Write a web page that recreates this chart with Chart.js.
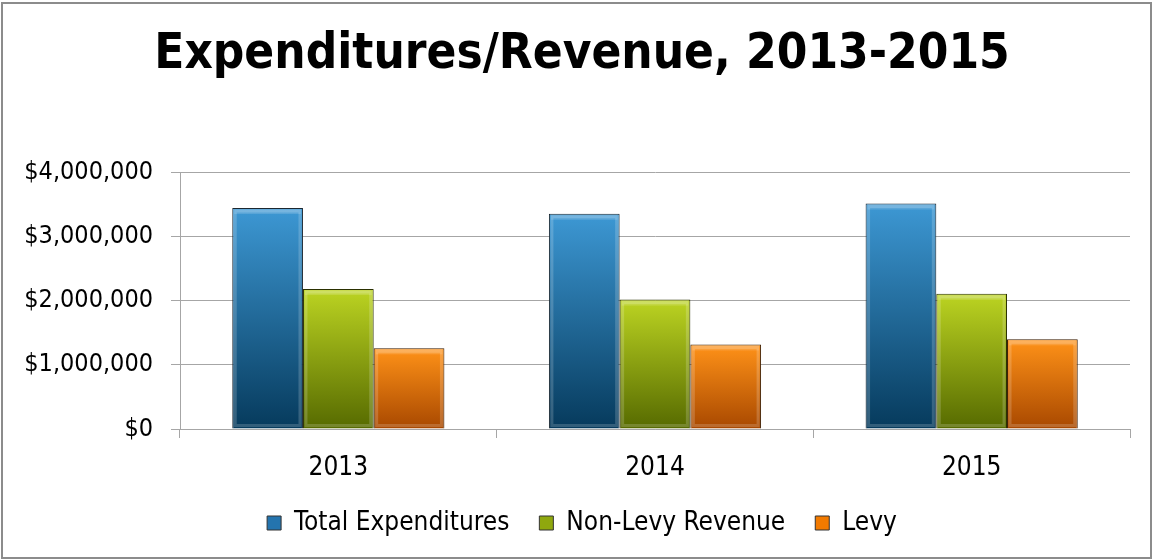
<!DOCTYPE html>
<html>
<head>
<meta charset="utf-8">
<script src="https://cdn.jsdelivr.net/npm/chart.js@4/dist/chart.umd.min.js"></script>
<style>
  html, body { margin: 0; padding: 0; background: #fff; }
  #wrap { position: absolute; left: 0; top: 0; width: 1153px; height: 560px; }
</style>
</head>
<body>
<div id="wrap"><canvas id="myChart" width="1153" height="560"></canvas></div>
<script>
const years = ['2013', '2014', '2015'];
const totalExpenditures = [3450000, 3360000, 3520000];
const nonLevyRevenue = [2185000, 2020000, 2110000];
const levy = [1260000, 1320000, 1400000];
const yTicks = [0, 1000000, 2000000, 3000000, 4000000];

const FONT = '"DejaVu Sans Condensed", "DejaVu Sans", sans-serif';
const legendFill = ['#2474ae', '#8fa80e', '#f27a00'];

// light top -> dark bottom for each bar
function barFill(top, bottom, flat) {
  return function (ctx) {
    if (ctx.type !== 'data') return flat;
    const chart = ctx.chart;
    const y = chart.scales.y;
    if (!y || !chart.chartArea) return flat;
    const yTop = y.getPixelForValue(ctx.raw);
    const yBot = y.getPixelForValue(0);
    if (!isFinite(yTop) || !isFinite(yBot) || yTop === yBot) return flat;
    const g = chart.ctx.createLinearGradient(0, yTop, 0, yBot);
    g.addColorStop(0, top);
    g.addColorStop(1, bottom);
    return g;
  };
}

// soft bevel inside the bars + outer frame of the picture
const frame = {
  id: 'frame',
  afterLayout(chart) {
    // let the y tick labels use the left padding too (title stays centred like the original)
    chart.scales.y.left = 0;
  },
  afterDatasetsDraw(chart) {
    const c = chart.ctx;
    c.save();
    chart.data.datasets.forEach((ds, i) => {
      chart.getDatasetMeta(i).data.forEach(bar => {
        const left = bar.x - bar.width / 2;
        const top = bar.y;
        const h = bar.base - bar.y;
        c.strokeStyle = 'rgba(255,255,255,0.18)';
        c.lineWidth = 3;
        c.strokeRect(left + 3, top + 3, bar.width - 6, h - 6);
        c.fillStyle = 'rgba(255,255,255,0.15)';
        c.fillRect(left + 2, top + 1, bar.width - 4, 5);
      });
    });
    c.restore();
  },
  afterDraw(chart) {
    const c = chart.ctx;
    c.save();
    c.strokeStyle = '#8c8c8c';
    c.lineWidth = 2;
    c.strokeRect(2, 3, chart.width - 4, chart.height - 5);
    c.restore();
  }
};

let myChart = document.getElementById('myChart').getContext('2d');

let chart = new Chart(myChart, {
  type: 'bar',
  data: {
    labels: years,
    datasets: [{
      label: 'Total Expenditures',
      data: totalExpenditures,
      backgroundColor: barFill('#3d98d4', '#063a5c', '#2a7ab5'),
      borderColor: '#1b2730',
      borderWidth: 1
    }, {
      label: 'Non-Levy Revenue',
      data: nonLevyRevenue,
      backgroundColor: barFill('#bcd422', '#566a00', '#94ad10'),
      borderColor: '#2a3000',
      borderWidth: 1
    }, {
      label: 'Levy',
      data: levy,
      backgroundColor: barFill('#ff9218', '#a84800', '#f57f00'),
      borderColor: '#3a1c00',
      borderWidth: 1
    }]
  },
  options: {
    responsive: false,
    animation: false,
    devicePixelRatio: 1,
    layout: { padding: { left: 34, right: 23, top: 0, bottom: 14 } },
    datasets: {
      bar: { categoryPercentage: 0.67, barPercentage: 1.0 }
    },
    scales: {
      x: {
        grid: { offset: true, drawOnChartArea: false, color: '#a6a6a6', tickLength: 9 },
        border: { color: '#a6a6a6' },
        ticks: { color: '#000', font: { family: FONT, size: 26 }, padding: 15 },
        afterFit(scale) { scale.height = 51; }
      },
      y: {
        min: 0,
        max: 4000000,
        afterBuildTicks(scale) { scale.ticks = yTicks.map(v => ({ value: v })); },
        grid: { color: '#a6a6a6', tickLength: 9 },
        border: { color: '#a6a6a6' },
        ticks: {
          color: '#000',
          font: { family: FONT, size: 25 },
          padding: 18,
          callback: v => '$' + Number(v).toLocaleString('en-US')
        },
        afterFit(scale) { scale.width = 146; }
      }
    },
    plugins: {
      title: {
        display: true,
        text: 'Expenditures/Revenue, 2013-2015',
        color: '#000',
        font: { family: FONT, size: 49, weight: 'bold' },
        padding: { top: 26, bottom: 88 }
      },
      legend: {
        position: 'bottom',
        labels: {
          color: '#000',
          font: { family: FONT, size: 26 },
          boxWidth: 14,
          boxHeight: 14,
          padding: 30,
          generateLabels(chart) {
            const items = Chart.defaults.plugins.legend.labels.generateLabels(chart);
            items.forEach((it, i) => {
              it.fillStyle = legendFill[i];
              it.strokeStyle = '#333';
              it.lineWidth = 1;
            });
            return items;
          }
        }
      },
      tooltip: { enabled: false }
    }
  },
  plugins: [frame]
});
</script>
</body>
</html>
